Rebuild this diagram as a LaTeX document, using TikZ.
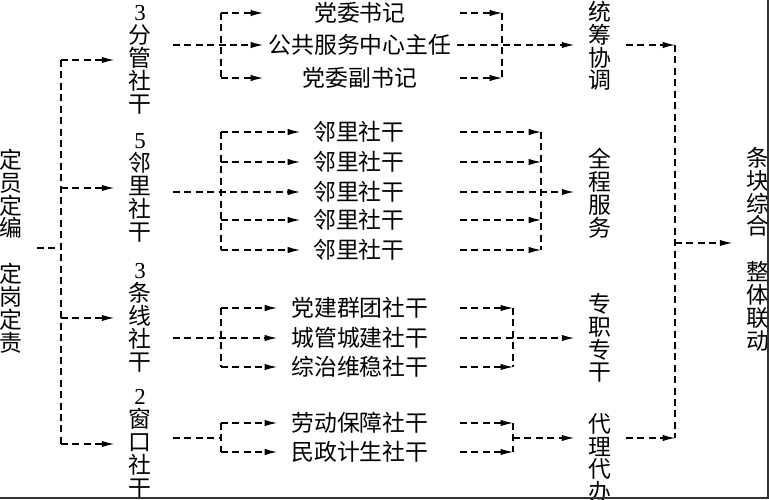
\documentclass[tikz,border=0pt]{standalone}
\usepackage{fontspec}
\setmainfont{Liberation Serif}
\newfontfamily\cjk{Noto Sans CJK SC}
\usetikzlibrary{arrows.meta}

\begin{document}
\begin{tikzpicture}[x=0.02cm, y=-0.02cm, >={Latex[length=7pt,width=3.6pt]},
  dl/.style={line width=0.6pt, dash pattern=on 4pt off 2.5pt},
  vtxt/.style={align=center, inner xsep=8pt, inner ysep=0pt, font=\cjk\fontsize{13}{13}\selectfont},
  item/.style={inner xsep=3pt, font=\cjk\fontsize{13}{13}\selectfont}]

\useasboundingbox (0,0) rectangle (769,500);

% Left column
\node[vtxt] (ld) at (11,251) {定\\员\\定\\编\\[13pt]定\\岗\\定\\责};

% Staff groups
\node[vtxt] (fg) at (140,60) {\textrm{3}\\分\\管\\社\\干};
\node[vtxt] (ll) at (140,188) {\textrm{5}\\邻\\里\\社\\干};
\node[vtxt] (tx) at (140,318) {\textrm{3}\\条\\线\\社\\干};
\node[vtxt] (ck) at (140,444) {\textrm{2}\\窗\\口\\社\\干};

% Posts
\node[item] (a1) at (360,13) {党委书记};
\node[item] (a2) at (360,45) {公共服务中心主任};
\node[item] (a3) at (360,78) {党委副书记};
\foreach \y [count=\i] in {132,162,192,220,250}
  \node[item] (b\i) at (359,\y) {邻里社干};
\node[item] (c1) at (360,308) {党建群团社干};
\node[item] (c2) at (360,338) {城管城建社干};
\node[item] (c3) at (360,367) {综治维稳社干};
\node[item] (d1) at (360,423) {劳动保障社干};
\node[item] (d2) at (360,452) {民政计生社干};

% Functions
\node[vtxt] (tc) at (600,46) {统\\筹\\协\\调};
\node[vtxt] (qc) at (600,193) {全\\程\\服\\务};
\node[vtxt] (zc) at (600,338) {专\\职\\专\\干};
\node[vtxt] (db) at (600,458) {代\\理\\代\\办};
\node[vtxt] (zt) at (758,249) {条\\块\\综\\合\\[13pt]整\\体\\联\\动};

% Bus lines
\coordinate (tr) at (61,248);
\coordinate (ls) at (221,0);
\coordinate (ae) at (263,0);
\coordinate (be) at (300,0);
\coordinate (ce) at (277,0);
\coordinate (rs) at (460,0);
\coordinate (ar) at (502,0);
\coordinate (br) at (541,0);
\coordinate (cr) at (513,0);
\coordinate (zr) at (675,0);
\coordinate (dm) at (221,438);
\coordinate (dn) at (513,438);
\coordinate (zo) at (675,243);

% Left trunk
\draw[dl] (ld.east |- tr) -- (tr);
\draw[dl] (tr |- fg) -- (tr |- ck);
\foreach \n in {fg,ll,tx,ck}
  \draw[dl,->] (tr |- \n) -- (\n.west);

% Group 1
\draw[dl,->,shorten <=4pt] (fg.east |- a2) -- (a2.west);
\draw[dl] (ls |- a1) -- (ls |- a3);
\draw[dl,->] (ls |- a1) -- (ae |- a1);
\draw[dl,->] (ls |- a3) -- (ae |- a3);
\draw[dl,->] (rs |- a1) -- (ar |- a1);
\draw[dl,->] (rs |- a3) -- (ar |- a3);
\draw[dl] (ar |- a1) -- (ar |- a3);
\draw[dl,->] (a2.east) -- (tc.west |- a2);

% Group 2
\draw[dl,->,shorten <=4pt] (ll.east |- b3) -- (be |- b3);
\draw[dl] (ls |- b1) -- (ls |- b5);
\foreach \i in {1,2,4,5} {
  \draw[dl,->] (ls |- b\i) -- (be |- b\i);
  \draw[dl,->] (rs |- b\i) -- (br |- b\i);
}
\draw[dl] (br |- b1) -- (br |- b5);
\draw[dl,->] (rs |- b3) -- (qc.west |- b3);

% Group 3
\draw[dl,->,shorten <=4pt] (tx.east |- c2) -- (ce |- c2);
\draw[dl] (ls |- c1) -- (ls |- c3);
\draw[dl,->] (ls |- c1) -- (ce |- c1);
\draw[dl,->] (ls |- c3) -- (ce |- c3);
\draw[dl,->] (rs |- c1) -- (cr |- c1);
\draw[dl,->] (rs |- c3) -- (cr |- c3);
\draw[dl] (cr |- c1) -- (cr |- c3);
\draw[dl,->] (rs |- c2) -- (zc.west |- c2);

% Group 4
\draw[dl,shorten <=4pt] (ck.east |- dm) -- (dm);
\draw[dl] (ls |- d1) -- (ls |- d2);
\draw[dl,->] (ls |- d1) -- (ce |- d1);
\draw[dl,->] (ls |- d2) -- (ce |- d2);
\draw[dl,->] (rs |- d1) -- (cr |- d1);
\draw[dl,->] (rs |- d2) -- (cr |- d2);
\draw[dl] (cr |- d1) -- (cr |- d2);
\draw[dl,->] (dn) -- (db.west |- dn);

% Right trunk
\draw[dl,->] (tc.east |- a2) -- (zr |- a2);
\draw[dl,->] (db.east |- dn) -- (zr |- dn);
\draw[dl] (zr |- a2) -- (zr |- dn);
\draw[dl,->] (zo) -- (zt.west |- zo);

% Frame edges
\draw[line width=1.2pt, black!80] (0,498) -- (768,498) -- (768,0);

\end{tikzpicture}
\end{document}
